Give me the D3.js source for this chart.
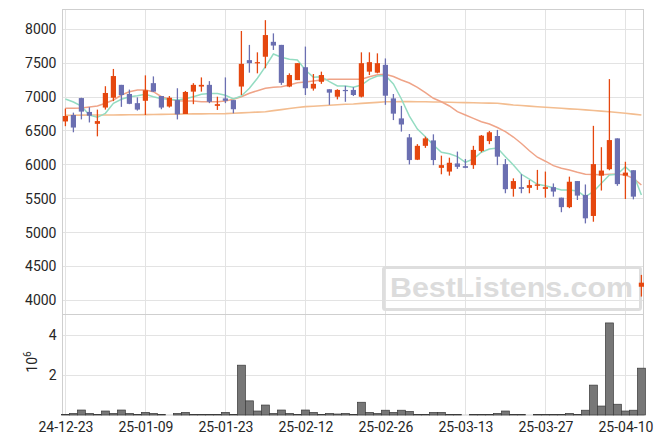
<!DOCTYPE html>
<html><head><meta charset="utf-8">
<script src="https://cdn.jsdelivr.net/npm/d3@7/dist/d3.min.js"></script>
<style>body{margin:0;background:#fff}svg{display:block}</style>
</head><body><svg id="c" width="663" height="444"></svg>
<script>
const dates = ["24-12-23","24-12-24","24-12-26","24-12-27","24-12-30","25-01-02","25-01-03","25-01-06","25-01-07","25-01-08",
"25-01-09","25-01-10","25-01-13","25-01-14","25-01-15","25-01-16","25-01-17","25-01-20","25-01-21","25-01-22",
"25-01-23","25-01-24","25-01-31","25-02-03","25-02-04","25-02-05","25-02-06","25-02-07","25-02-10","25-02-11",
"25-02-12","25-02-13","25-02-14","25-02-17","25-02-18","25-02-19","25-02-20","25-02-21","25-02-24","25-02-25",
"25-02-26","25-02-27","25-02-28","25-03-04","25-03-05","25-03-06","25-03-07","25-03-10","25-03-11","25-03-12",
"25-03-13","25-03-14","25-03-17","25-03-18","25-03-19","25-03-20","25-03-21","25-03-24","25-03-25","25-03-26",
"25-03-27","25-03-28","25-03-31","25-04-01","25-04-02","25-04-03","25-04-04","25-04-07","25-04-08","25-04-09",
"25-04-10","25-04-11","25-04-14"];
const opens = [6640,6735,6985,6780,6605,6845,6990,7180,7045,6910,
6945,7205,7015,6860,6955,6750,7080,7155,7180,6870,
6980,6955,7155,7545,7500,7595,7815,7770,7155,7250,
7440,7125,7225,7115,7005,7105,7105,7005,7375,7360,
7475,6980,6685,6405,6075,6280,6360,5955,5900,6020,
5980,5995,6205,6350,6425,6010,5645,5670,5660,5690,
5645,5670,5515,5375,5760,5555,5245,5840,5935,6390,
5840,5920,4200];
const highs = [6830,6770,6990,6850,6815,7160,7415,7180,7110,6995,
7320,7305,7015,7015,7130,7090,7205,7290,7235,7005,
7290,6955,7975,7770,7660,8135,7940,7770,7350,7500,
7745,7340,7375,7115,7115,7165,7145,7660,7660,7645,
7570,7045,6870,6455,6305,6415,6450,6135,6105,6195,
6085,6280,6440,6500,6515,6085,5800,5860,5775,5925,
5900,5725,5515,5825,5760,5710,6575,6260,7265,6390,
6045,5920,4375];
const lows = [6570,6480,6670,6625,6420,6815,6940,6855,6895,6800,
6735,7075,6820,6845,6670,6750,6895,7080,6910,6810,
6910,6760,7030,7360,7350,7425,7695,7180,7145,7250,
7030,7095,7195,6885,6965,6930,7015,6995,7325,7350,
6885,6660,6490,6005,6070,6250,5995,5860,5840,5940,
5950,5940,6185,6305,5995,5580,5530,5580,5580,5630,
5515,5530,5300,5360,5480,5135,5160,5620,5920,5690,
5495,5490,4055];
const closes = [6720,6550,6785,6725,6645,7060,7310,7030,6900,6815,
7100,7080,6845,6990,6745,7075,7180,7180,6930,6895,
6945,6820,7490,7500,7515,7915,7760,7210,7325,7500,
7130,7195,7325,7065,7105,7095,7030,7500,7515,7500,
7020,6755,6595,6070,6280,6390,6070,5995,6030,5970,
5955,6220,6430,6480,6120,5640,5760,5645,5700,5710,
5670,5605,5375,5750,5545,5210,6010,5915,6365,5715,
5885,5530,4260];
const volumesM = [0.02,0.08,0.25,0.08,0.02,0.2,0.08,0.25,0.08,0.03,
0.13,0.08,0.03,0,0.08,0.13,0.03,0.03,0.03,0.03,
0.13,0.02,2.5,0.71,0.2,0.5,0.08,0.25,0.08,0.03,
0.25,0.13,0.03,0.08,0.05,0.08,0.03,0.64,0.13,0.08,
0.24,0.13,0.24,0.18,0.03,0.03,0.13,0.13,0.03,0.03,
0,0.02,0.02,0.03,0.08,0.2,0.03,0.03,0,0.02,
0.02,0.02,0.02,0.08,0.03,0.24,1.5,0.45,4.62,0.54,
0.2,0.24,2.35];
const ma5 = [6971,6927,6868,6735,6701,6760,6908,6967,7005,7020,
7041,7005,6976,6967,6956,6976,7005,7041,7052,7052,
7026,6971,7016,7129,7277,7448,7635,7587,7557,7547,
7399,7291,7300,7227,7163,7163,7144,7178,7262,7311,
7318,7193,6971,6720,6528,6415,6292,6185,6164,6120,
6037,6086,6185,6233,6248,6120,5997,5860,5790,5712,
5692,5662,5628,5628,5613,5529,5603,5727,5850,5860,
5972,5860,5554];
const ma20 = [6834,6834,6838,6853,6868,6908,6956,7030,7079,7104,
7104,7079,7005,6967,6946,6942,6942,6931,6931,6931,
6942,6967,7005,7055,7094,7129,7144,7153,7178,7212,
7222,7237,7252,7262,7262,7262,7262,7262,7300,7330,
7336,7303,7252,7207,7144,7064,6982,6931,6868,6784,
6735,6686,6636,6602,6551,6489,6410,6314,6207,6112,
6053,5987,5948,5923,5889,5860,5855,5852,5860,5860,
5849,5801,5702];
const ma60 = [6730,6732,6733,6734,6735,6735,6736,6737,6738,6739,
6740,6742,6744,6746,6748,6750,6751,6752,6753,6754,
6755,6760,6766,6772,6778,6784,6800,6815,6830,6845,
6858,6865,6872,6880,6887,6893,6897,6906,6914,6922,
6930,6931,6932,6932,6931,6930,6928,6926,6923,6920,
6917,6915,6912,6910,6908,6896,6883,6875,6866,6857,
6849,6842,6834,6826,6819,6810,6801,6792,6784,6772,
6760,6748,6735];
const priceTicks = [4000,4500,5000,5500,6000,6500,7000,7500,8000];
const volTicks = [2,4];
const xTickLabels = ["24-12-23","25-01-09","25-01-23","25-02-12","25-02-26","25-03-13","25-03-27","25-04-10"];

const svg = d3.select("#c");
const L = 62.5, R = 643.5, T = 9.5, PB = 314.5, VB = 415;
const UP = "#e5470f", DOWN = "#6b6fb1";
const FONT = "Roboto, 'Liberation Sans', sans-serif";

const x = d3.scalePoint().domain(dates).range([65.4, 641.4]);
const y = d3.scaleLinear().domain([4000, 8000]).range([300.3, 29.3]);
const yv = d3.scaleLinear().domain([0, 4]).range([415, 335.3]);

svg.append("rect").attr("width", 663).attr("height", 444).attr("fill", "#fff");

const grid = svg.append("g").attr("stroke", "#e3e3e3").attr("stroke-width", 1).attr("fill", "none");
priceTicks.forEach(t => {
  const yy = Math.floor(y(t)) + 0.5;
  grid.append("line").attr("x1", L).attr("x2", R).attr("y1", yy).attr("y2", yy);
});
volTicks.forEach(t => {
  const yy = Math.floor(yv(t)) + 0.5;
  grid.append("line").attr("x1", L).attr("x2", R).attr("y1", yy).attr("y2", yy);
});
xTickLabels.forEach(d => {
  const xx = Math.floor(x(d)) + 0.5;
  grid.append("line").attr("x1", xx).attr("x2", xx).attr("y1", T).attr("y2", VB);
});

// watermark
const wm = svg.append("g");
wm.append("rect").attr("x", 383.5).attr("y", 267.5).attr("width", 257).attr("height", 42)
  .attr("rx", 2).attr("fill", "none").attr("stroke", "#dedede").attr("stroke-width", 3);
wm.append("text").attr("x", 390).attr("y", 297).attr("font-family", "'Liberation Sans', Arial, sans-serif")
  .attr("font-weight", "bold").attr("font-size", 28).attr("fill", "#dcdcdc")
  .attr("textLength", 243).attr("lengthAdjust", "spacingAndGlyphs").text("BestListens.com");

// frame
const frame = svg.append("g").attr("stroke", "#cfcfcf").attr("fill", "none");
frame.append("rect").attr("x", L).attr("y", T).attr("width", R - L).attr("height", VB - T);
frame.append("line").attr("x1", L).attr("x2", R).attr("y1", PB).attr("y2", PB);

// volume bars
const vb = svg.append("g");
dates.forEach((d, i) => {
  if (volumesM[i] <= 0) return;
  const top = yv(volumesM[i]);
  vb.append("rect").attr("x", x(d) - 4).attr("y", top).attr("width", 8).attr("height", VB - top)
    .attr("fill", "#777").attr("stroke", "#3a3a3a").attr("stroke-width", 0.7);
});

// moving averages
const line = arr => d3.line().x((v, i) => x(dates[i])).y(v => y(v))(arr);
svg.append("path").attr("d", line(ma60)).attr("fill", "none").attr("stroke", "#f3bd90").attr("stroke-width", 1.6);
svg.append("path").attr("d", line(ma20)).attr("fill", "none").attr("stroke", "#efa488").attr("stroke-width", 1.5);
svg.append("path").attr("d", line(ma5)).attr("fill", "none").attr("stroke", "#94dcc2").attr("stroke-width", 1.5);

// candles
const cg = svg.append("g");
dates.forEach((d, i) => {
  const up = closes[i] >= opens[i];
  const col = up ? UP : DOWN;
  const cx = x(d);
  cg.append("line").attr("x1", cx).attr("x2", cx).attr("y1", y(highs[i])).attr("y2", y(lows[i]))
    .attr("stroke", col).attr("stroke-width", 1.3);
  const y1 = y(Math.max(opens[i], closes[i])), y2 = y(Math.min(opens[i], closes[i]));
  cg.append("rect").attr("x", cx - 2.6).attr("y", y1).attr("width", 5.2).attr("height", Math.max(1.2, y2 - y1))
    .attr("fill", col);
});

// axes
const ya = svg.append("g").attr("transform", `translate(${L},0)`)
  .call(d3.axisLeft(y).tickValues(priceTicks).tickSize(0).tickPadding(6).tickFormat(d3.format("d")));
const yva = svg.append("g").attr("transform", `translate(${L},0)`)
  .call(d3.axisLeft(yv).tickValues(volTicks).tickSize(0).tickPadding(6).tickFormat(d3.format("d")));
const xa = svg.append("g").attr("transform", `translate(0,${VB})`)
  .call(d3.axisBottom(x).tickValues(xTickLabels).tickSize(0).tickPadding(6));
[ya, yva, xa].forEach(g => {
  g.select(".domain").remove();
  g.selectAll("text").attr("font-family", FONT).attr("font-size", 14).attr("fill", "#262626");
});
xa.selectAll("text").attr("dy", null).attr("y", 16.5);

// volume unit label
const ul = svg.append("text").attr("transform", "translate(37,362) rotate(-90)")
  .attr("text-anchor", "middle").attr("font-family", FONT).attr("font-size", 14).attr("fill", "#262626");
ul.append("tspan").text("10");
ul.append("tspan").attr("font-size", 10).attr("dy", -6).text("6");
</script>
</body></html>
